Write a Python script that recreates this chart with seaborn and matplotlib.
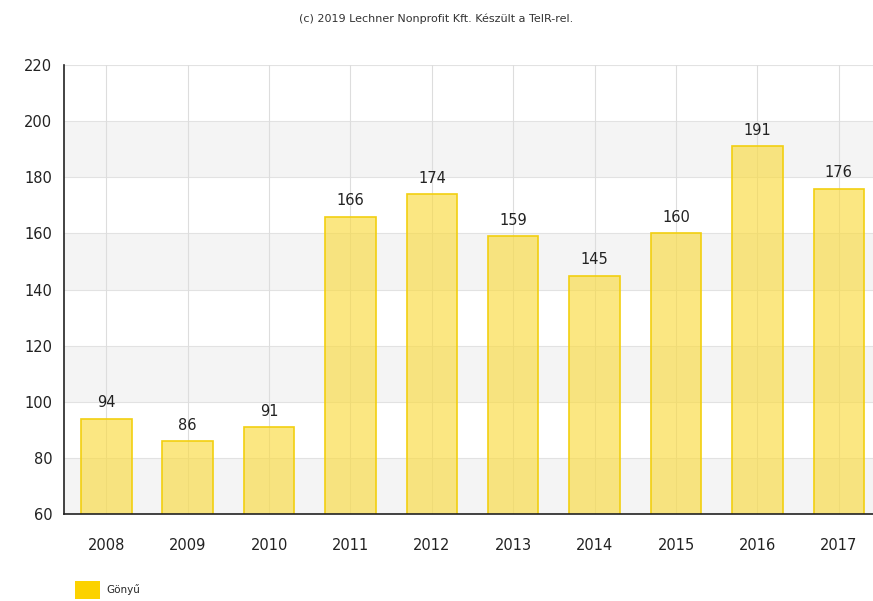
import matplotlib
matplotlib.use("Agg")
import matplotlib.pyplot as plt
import seaborn as sns
import pandas as pd
from matplotlib.patches import Patch

years = ["2008", "2009", "2010", "2011", "2012", "2013", "2014", "2015", "2016", "2017"]
values = [94, 86, 91, 166, 174, 159, 145, 160, 191, 176]
yticks = [60, 80, 100, 120, 140, 160, 180, 200, 220]
series_name = "Gönyű"
title = "(c) 2019 Lechner Nonprofit Kft. Készült a TeIR-rel."

sns.set_theme(style="white")
plt.rcParams['font.family'] = ['DejaVu Sans']

df = pd.DataFrame({"year": years, "value": values})

fig = plt.figure(figsize=(8.73, 6.01), dpi=100)
ax = fig.add_axes([64 / 873, 0.1447, 1 - 64 / 873, 0.7471])

sns.barplot(data=df, x="year", y="value", ax=ax, color="#f8d928",
            width=0.62, edgecolor="#f2cf10", linewidth=1.2, zorder=2, saturation=1)
for p in ax.containers[0]:
    p.set_edgecolor("#f2cf10")
    p.set_alpha(None)
    p.set_facecolor((0.98, 0.86, 0.25, 0.65))

# alternating bands
for i in range(0, len(yticks) - 1, 2):
    ax.axhspan(yticks[i], yticks[i + 1], facecolor="#f4f4f4", zorder=0, lw=0)

ax.set_ylim(60, 220)
ax.set_xlim(-0.52, len(years) - 0.58)
ax.set_yticks(yticks)
ax.set_xlabel("")
ax.set_ylabel("")

for y in yticks:
    ax.axhline(y, color="#e2e2e2", lw=0.8, zorder=1)
for i in range(len(years)):
    ax.axvline(i, color="#dddddd", lw=0.8, zorder=1)

for i, v in enumerate(values):
    ax.text(i, v + 3, str(v), ha="center", va="bottom", fontsize=10.5, color="#222222", zorder=3)

for s in ["top", "right"]:
    ax.spines[s].set_visible(False)
for s in ["left", "bottom"]:
    ax.spines[s].set_color("#222222")
    ax.spines[s].set_linewidth(1.2)
ax.tick_params(axis="both", which="both", direction="out", length=5, width=1,
               color="#222222", labelsize=10.5, labelcolor="#222222")
ax.tick_params(axis="x", pad=12)

fig.text(0.5, 0.968, title, ha="center", va="center", fontsize=8, color="#333333")

handles = [Patch(facecolor="#fcd200", edgecolor="none", label=series_name)]
fig.legend(handles=handles, loc="lower left", bbox_to_anchor=(0.075, -0.012), frameon=False,
           fontsize=7.5, handlelength=2.4, handleheight=2.2, handletextpad=0.6)

fig.savefig("out.png", dpi=100)
